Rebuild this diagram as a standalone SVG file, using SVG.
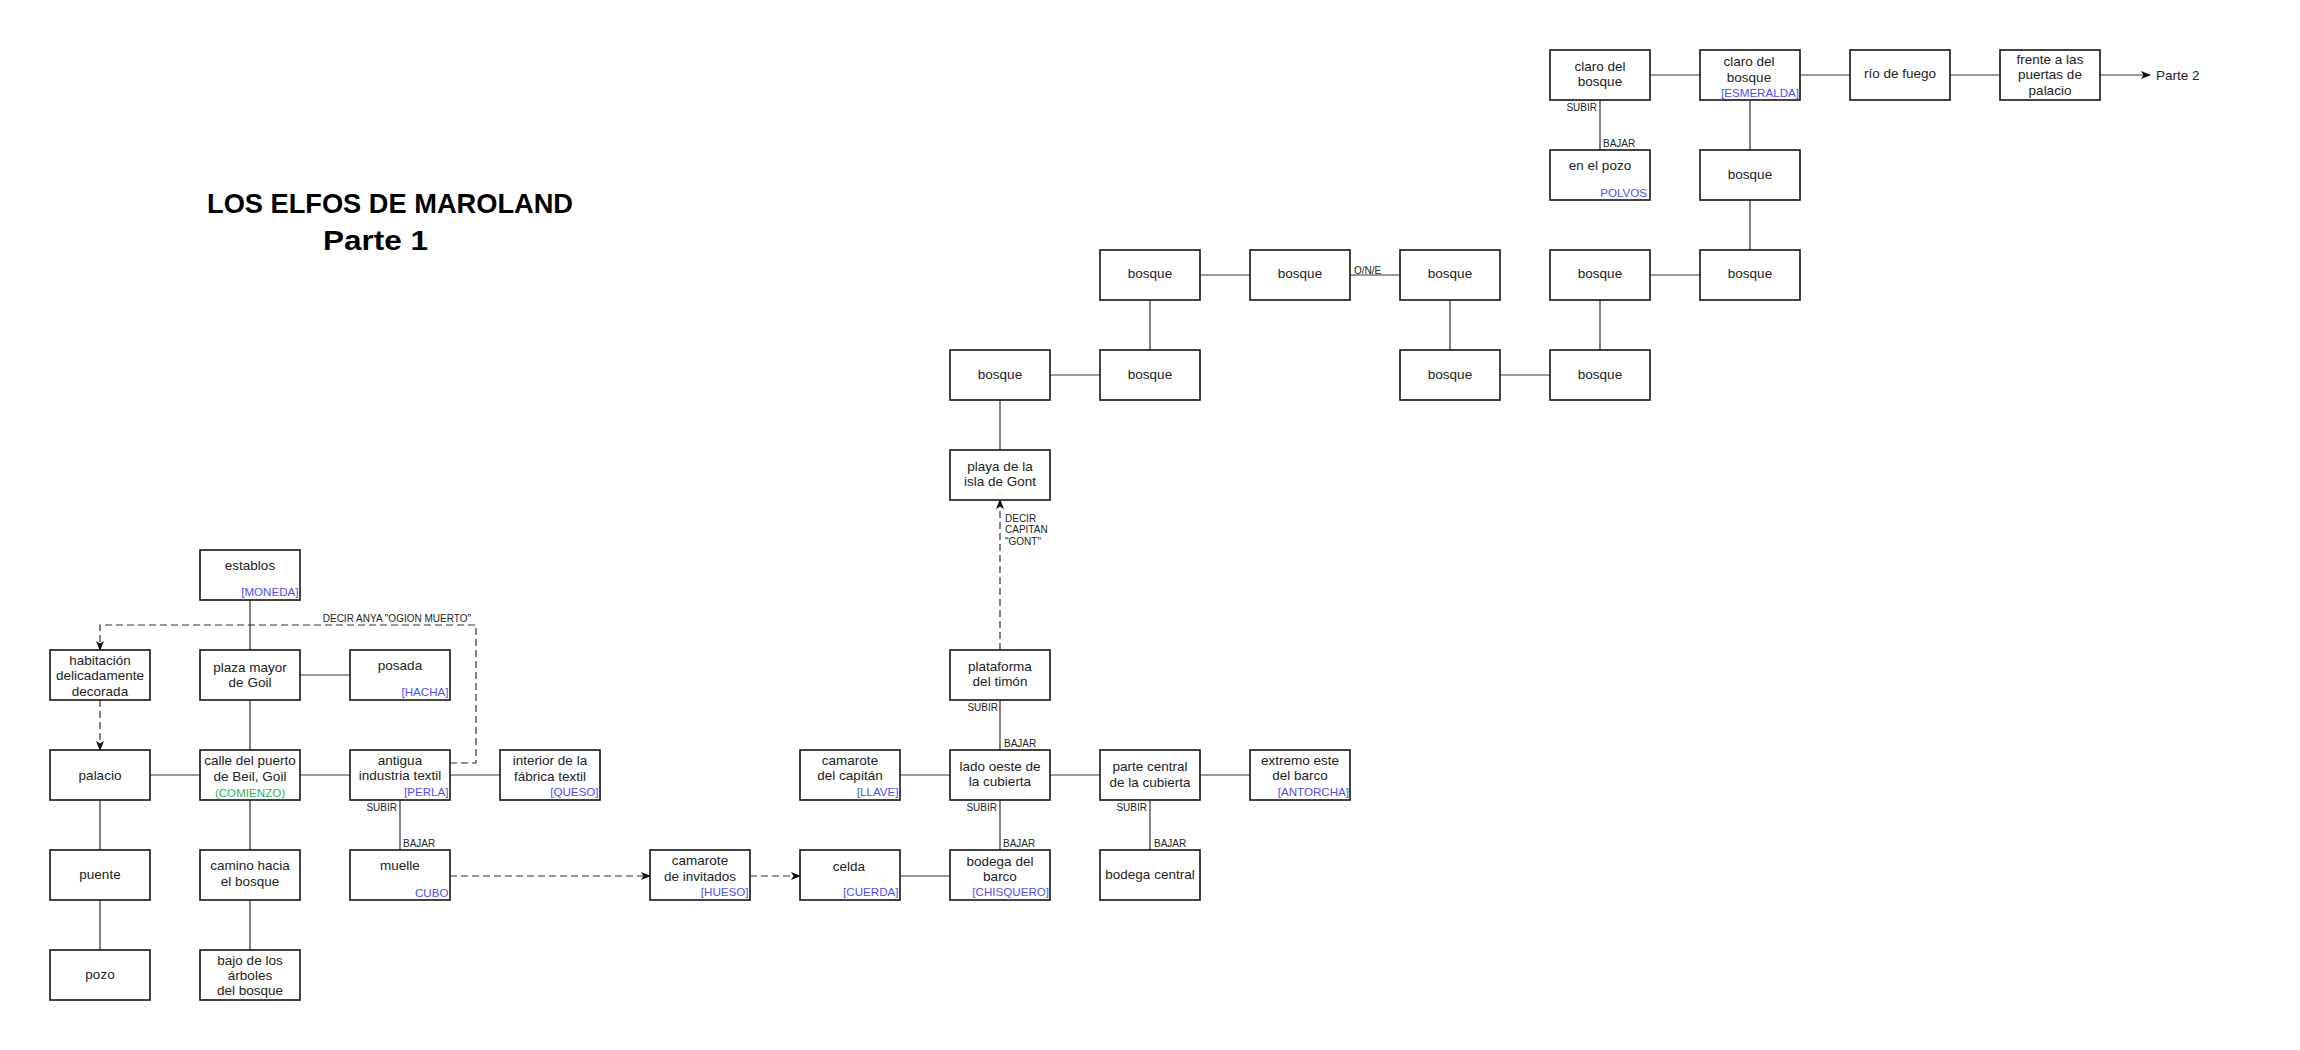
<svg xmlns="http://www.w3.org/2000/svg" width="2300" height="1050" viewBox="0 0 2300 1050">
<defs>
<marker id="arr" viewBox="0 0 10 8" refX="9" refY="4" markerWidth="10" markerHeight="8" markerUnits="userSpaceOnUse" orient="auto">
<path d="M0,0 L10,4 L0,8 L2.5,4 Z" fill="#111"/>
</marker>
<style>
.b{fill:#fff;stroke:#222;stroke-width:1.7}
.t{font-family:"Liberation Sans",Arial,sans-serif;font-size:13.5px;fill:#222;text-anchor:middle}
.s{font-family:"Liberation Sans",Arial,sans-serif;font-size:13.5px;fill:#222;text-anchor:start}
.i{font-family:"Liberation Sans",Arial,sans-serif;font-size:11.6px;fill:#4d4dff;text-anchor:end}
.g{font-family:"Liberation Sans",Arial,sans-serif;font-size:11.6px;fill:#2db34f;text-anchor:middle}
.l{font-family:"Liberation Sans",Arial,sans-serif;font-size:10px;fill:#222}
.c{fill:none;stroke:#333;stroke-width:1.2}
.d{fill:none;stroke:#333;stroke-width:1.2;stroke-dasharray:7 4}
.title{font-family:"Liberation Sans",Arial,sans-serif;font-size:28px;font-weight:bold;fill:#000}
</style>
</defs>
<rect width="2300" height="1050" fill="#fff"/>
<g id="title">
<text class="title" x="207" y="213" textLength="366" lengthAdjust="spacingAndGlyphs">LOS ELFOS DE MAROLAND</text>
<text class="title" x="323" y="250" textLength="105" lengthAdjust="spacingAndGlyphs">Parte 1</text>
</g>
<g id="connectors">
<path class="c" d="M250,600V650M250,700V750M300,675H350M150,775H200M300,775H350M450,775H500M100,800V850M100,900V950M250,800V850M250,900V950M400,800V850"/>
<path class="c" d="M900,876H950M900,775H950M1050,775H1100M1200,775H1250M1000,800V850M1150,800V850M1000,700V750M1000,450V400"/>
<path class="c" d="M1050,375H1100M1150,350V300M1200,275H1250M1350,275H1400M1450,300V350M1500,375H1550M1600,350V300M1650,275H1700M1750,250V200M1750,150V100M1650,75H1700M1800,75H1850M1950,75H2000M1600,100V150"/>
<path class="c" d="M2100,75H2150" marker-end="url(#arr)"/>
<path class="d" d="M450,763H476V625H100V650" marker-end="url(#arr)"/>
<path class="d" d="M100,700V750" marker-end="url(#arr)"/>
<path class="d" d="M450,876H650" marker-end="url(#arr)"/>
<path class="d" d="M750,876H800" marker-end="url(#arr)"/>
<path class="d" d="M1000,650V500" marker-end="url(#arr)"/>
<text class="l" x="471" y="621.5" text-anchor="end">DECIR ANYA "OGION MUERTO"</text>
<text class="l" x="397" y="810.5" text-anchor="end">SUBIR</text>
<text class="l" x="403" y="846.5">BAJAR</text>
<text class="l" x="997" y="811" text-anchor="end">SUBIR</text>
<text class="l" x="1003" y="847">BAJAR</text>
<text class="l" x="1147" y="811" text-anchor="end">SUBIR</text>
<text class="l" x="1154" y="847">BAJAR</text>
<text class="l" x="998" y="710.5" text-anchor="end">SUBIR</text>
<text class="l" x="1004" y="746.5">BAJAR</text>
<text class="l" x="1005" y="521.5">DECIR</text>
<text class="l" x="1005" y="533">CAPITAN</text>
<text class="l" x="1005" y="544.5">"GONT"</text>
<text class="l" x="1354" y="273.5">O/N/E</text>
<text class="l" x="1597" y="110.5" text-anchor="end">SUBIR</text>
<text class="l" x="1603" y="146.5">BAJAR</text>
<text class="s" x="2156" y="80">Parte 2</text>
</g>
<g id="n-establos"><rect class="b" x="200" y="550" width="100" height="50"/><text class="t" x="250" y="569.5">establos</text><text class="i" x="298.5" y="595.5">[MONEDA]</text></g>
<g id="n-habitacion"><rect class="b" x="50" y="650" width="100" height="50"/><text class="t" x="100" y="664.5">habitación</text><text class="t" x="100" y="680">delicadamente</text><text class="t" x="100" y="695.5">decorada</text></g>
<g id="n-plaza"><rect class="b" x="200" y="650" width="100" height="50"/><text class="t" x="250" y="671.5">plaza mayor</text><text class="t" x="250" y="687">de Goil</text></g>
<g id="n-posada"><rect class="b" x="350" y="650" width="100" height="50"/><text class="t" x="400" y="669.5">posada</text><text class="i" x="448.5" y="695.5">[HACHA]</text></g>
<g id="n-palacio"><rect class="b" x="50" y="750" width="100" height="50"/><text class="t" x="100" y="779.5">palacio</text></g>
<g id="n-calle"><rect class="b" x="200" y="750" width="100" height="50"/><text class="t" x="250" y="765">calle del puerto</text><text class="t" x="250" y="780.5">de Beil, Goil</text><text class="g" x="250" y="796.5">(COMIENZO)</text></g>
<g id="n-antigua"><rect class="b" x="350" y="750" width="100" height="50"/><text class="t" x="400" y="764.5">antigua</text><text class="t" x="400" y="780">industria textil</text><text class="i" x="448.5" y="795.5">[PERLA]</text></g>
<g id="n-interior"><rect class="b" x="500" y="750" width="100" height="50"/><text class="t" x="550" y="765">interior de la</text><text class="t" x="550" y="780.5">fábrica textil</text><text class="i" x="598.5" y="795.5">[QUESO]</text></g>
<g id="n-puente"><rect class="b" x="50" y="850" width="100" height="50"/><text class="t" x="100" y="878.5">puente</text></g>
<g id="n-camino"><rect class="b" x="200" y="850" width="100" height="50"/><text class="t" x="250" y="870">camino hacia</text><text class="t" x="250" y="885.5">el bosque</text></g>
<g id="n-muelle"><rect class="b" x="350" y="850" width="100" height="50"/><text class="t" x="400" y="869.5">muelle</text><text class="i" x="448.5" y="896.5">CUBO</text></g>
<g id="n-pozo"><rect class="b" x="50" y="950" width="100" height="50"/><text class="t" x="100" y="978.5">pozo</text></g>
<g id="n-bajo"><rect class="b" x="200" y="950" width="100" height="50"/><text class="t" x="250" y="964.5">bajo de los</text><text class="t" x="250" y="979.5">árboles</text><text class="t" x="250" y="995">del bosque</text></g>
<g id="n-camarote-invitados"><rect class="b" x="650" y="850" width="100" height="50"/><text class="t" x="700" y="865">camarote</text><text class="t" x="700" y="880.5">de invitados</text><text class="i" x="748.5" y="896">[HUESO]</text></g>
<g id="n-celda"><rect class="b" x="800" y="850" width="100" height="50"/><text class="t" x="849" y="870.5">celda</text><text class="i" x="898.5" y="896">[CUERDA]</text></g>
<g id="n-bodega-barco"><rect class="b" x="950" y="850" width="100" height="50"/><text class="t" x="1000" y="865.5">bodega del</text><text class="t" x="1000" y="881">barco</text><text class="i" x="1049" y="896">[CHISQUERO]</text></g>
<g id="n-bodega-central"><rect class="b" x="1100" y="850" width="100" height="50"/><text class="t" x="1150" y="878.5">bodega central</text></g>
<g id="n-camarote-capitan"><rect class="b" x="800" y="750" width="100" height="50"/><text class="t" x="850" y="764.5">camarote</text><text class="t" x="850" y="780">del capitán</text><text class="i" x="898.5" y="795.5">[LLAVE]</text></g>
<g id="n-lado-oeste"><rect class="b" x="950" y="750" width="100" height="50"/><text class="t" x="1000" y="770.5">lado oeste de</text><text class="t" x="1000" y="786">la cubierta</text></g>
<g id="n-parte-central"><rect class="b" x="1100" y="750" width="100" height="50"/><text class="t" x="1150" y="771">parte central</text><text class="t" x="1150" y="786.5">de la cubierta</text></g>
<g id="n-extremo-este"><rect class="b" x="1250" y="750" width="100" height="50"/><text class="t" x="1300" y="765">extremo este</text><text class="t" x="1300" y="780">del barco</text><text class="i" x="1349" y="796">[ANTORCHA]</text></g>
<g id="n-plataforma"><rect class="b" x="950" y="650" width="100" height="50"/><text class="t" x="1000" y="671">plataforma</text><text class="t" x="1000" y="686">del timón</text></g>
<g id="n-playa"><rect class="b" x="950" y="450" width="100" height="50"/><text class="t" x="1000" y="470.5">playa de la</text><text class="t" x="1000" y="485.5">isla de Gont</text></g>
<g id="n-bosque1"><rect class="b" x="950" y="350" width="100" height="50"/><text class="t" x="1000" y="378.5">bosque</text></g>
<g id="n-bosque2"><rect class="b" x="1100" y="350" width="100" height="50"/><text class="t" x="1150" y="378.5">bosque</text></g>
<g id="n-bosque3"><rect class="b" x="1100" y="250" width="100" height="50"/><text class="t" x="1150" y="278">bosque</text></g>
<g id="n-bosque4"><rect class="b" x="1250" y="250" width="100" height="50"/><text class="t" x="1300" y="278">bosque</text></g>
<g id="n-bosque5"><rect class="b" x="1400" y="250" width="100" height="50"/><text class="t" x="1450" y="278">bosque</text></g>
<g id="n-bosque6"><rect class="b" x="1400" y="350" width="100" height="50"/><text class="t" x="1450" y="378.5">bosque</text></g>
<g id="n-bosque7"><rect class="b" x="1550" y="350" width="100" height="50"/><text class="t" x="1600" y="378.5">bosque</text></g>
<g id="n-bosque8"><rect class="b" x="1550" y="250" width="100" height="50"/><text class="t" x="1600" y="278">bosque</text></g>
<g id="n-bosque9"><rect class="b" x="1700" y="250" width="100" height="50"/><text class="t" x="1750" y="278">bosque</text></g>
<g id="n-bosque10"><rect class="b" x="1700" y="150" width="100" height="50"/><text class="t" x="1750" y="178.5">bosque</text></g>
<g id="n-claro1"><rect class="b" x="1550" y="50" width="100" height="50"/><text class="t" x="1600" y="70.5">claro del</text><text class="t" x="1600" y="86">bosque</text></g>
<g id="n-claro2"><rect class="b" x="1700" y="50" width="100" height="50"/><text class="t" x="1749" y="66">claro del</text><text class="t" x="1749" y="81.5">bosque</text><text class="i" x="1799" y="96.5">[ESMERALDA]</text></g>
<g id="n-rio"><rect class="b" x="1850" y="50" width="100" height="50"/><text class="t" x="1900" y="78">río de fuego</text></g>
<g id="n-frente"><rect class="b" x="2000" y="50" width="100" height="50"/><text class="t" x="2050" y="64">frente a las</text><text class="t" x="2050" y="79">puertas de</text><text class="t" x="2050" y="94.5">palacio</text></g>
<g id="n-en-el-pozo"><rect class="b" x="1550" y="150" width="100" height="50"/><text class="t" x="1600" y="170">en el pozo</text><text class="i" x="1647" y="196.5">POLVOS</text></g>
</svg>
